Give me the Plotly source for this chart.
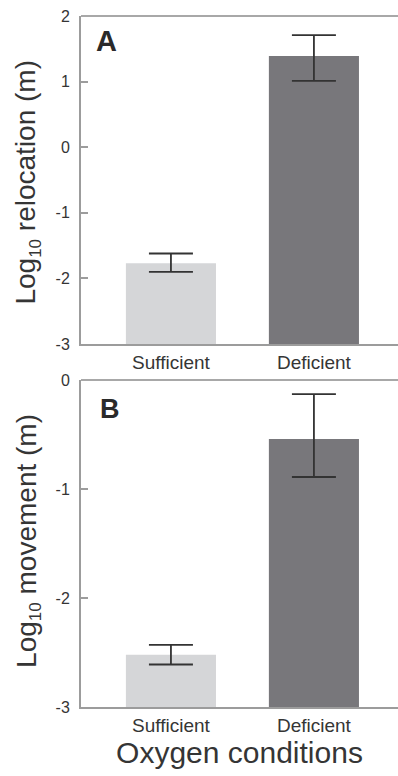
import plotly.graph_objects as go

# Oxygen treatment groups
categories = ["Sufficient", "Deficient"]

# Panel A: log10 relocation distance (m), mean with upper/lower error limits
reloc_mean = [-1.77, 1.39]
reloc_upper = [-1.62, 1.71]
reloc_lower = [-1.90, 1.01]

# Panel B: log10 movement distance (m), mean with upper/lower error limits
move_mean = [-2.52, -0.54]
move_upper = [-2.43, -0.13]
move_lower = [-2.61, -0.89]

y_ticks_a = [-3, -2, -1, 0, 1, 2]
y_ticks_b = [-3, -2, -1, 0]

bar_colors = ["#d5d6d8", "#78777b"]
axis_color = "#9c9c9c"
text_color = "#353535"
font_family = "Liberation Sans, Arial, sans-serif"
BASE = -3


def tick_text(vals):
    # plain hyphen-minus for negative tick labels
    return [str(v) for v in vals]


def bar_trace(means, upper, lower, xa, ya):
    return go.Bar(
        x=categories,
        y=[m - BASE for m in means],
        base=BASE,
        marker=dict(color=bar_colors, line=dict(width=0)),
        width=0.63,
        error_y=dict(
            type="data",
            symmetric=False,
            array=[u - m for u, m in zip(upper, means)],
            arrayminus=[m - l for m, l in zip(means, lower)],
            color="#333333",
            thickness=1.8,
            width=22,
        ),
        xaxis=xa,
        yaxis=ya,
        showlegend=False,
    )


fig = go.Figure()
fig.add_trace(bar_trace(reloc_mean, reloc_upper, reloc_lower, "x", "y"))
fig.add_trace(bar_trace(move_mean, move_upper, move_lower, "x2", "y2"))

xaxis_common = dict(
    range=[-0.629, 1.588],
    showline=True,
    linecolor=axis_color,
    linewidth=2,
    ticks="",
    showgrid=False,
    zeroline=False,
    tickfont=dict(size=19, color=text_color, family=font_family),
)
yaxis_common = dict(
    showline=True,
    linecolor=axis_color,
    linewidth=2,
    ticks="inside",
    ticklen=7,
    tickwidth=1.5,
    tickcolor=axis_color,
    showgrid=False,
    zeroline=False,
    ticklabelstandoff=6,
    tickfont=dict(size=16, color=text_color, family=font_family),
)

title_font = dict(size=28, color=text_color, family=font_family)
sub10 = "<sub><span style='font-size:17px'>10</span></sub>"

fig.update_layout(
    width=398,
    height=776,
    margin=dict(l=81, r=0, t=16, b=69),
    paper_bgcolor="white",
    plot_bgcolor="white",
    xaxis=dict(anchor="y", domain=[0, 1], **xaxis_common),
    xaxis2=dict(
        anchor="y2",
        domain=[0, 1],
        title=dict(text="Oxygen conditions", font=dict(size=30, color=text_color, family=font_family), standoff=4),
        **xaxis_common,
    ),
    yaxis=dict(
        anchor="x",
        domain=[0.5253, 1],
        range=[-3, 2],
        tickvals=y_ticks_a,
        ticktext=tick_text(y_ticks_a),
        **yaxis_common,
    ),
    yaxis2=dict(
        anchor="x2",
        domain=[0, 0.4732],
        range=[-3, 0],
        tickvals=y_ticks_b,
        ticktext=tick_text(y_ticks_b),
        **yaxis_common,
    ),
    shapes=[
        dict(type="line", xref="x domain", yref="y domain", x0=0, x1=1, y0=1, y1=1,
             line=dict(color="#a8a8a8", width=2)),
        dict(type="line", xref="x2 domain", yref="y2 domain", x0=0, x1=1, y0=1, y1=1,
             line=dict(color="#a8a8a8", width=2)),
    ],
    annotations=[
        # y-axis titles
        dict(text="Log" + sub10 + " relocation (m)", xref="paper", yref="paper",
             x=-0.168, y=0.760, xanchor="center", yanchor="middle", textangle=-90,
             showarrow=False, font=title_font),
        dict(text="Log" + sub10 + " movement (m)", xref="paper", yref="paper",
             x=-0.168, y=0.240, xanchor="center", yanchor="middle", textangle=-90,
             showarrow=False, font=title_font),
        # panel letters
        dict(text="<b>A</b>", xref="x domain", yref="y domain", x=0.08, y=0.925,
             xanchor="center", yanchor="middle", showarrow=False,
             font=dict(size=29, color="#2a2a2a", family=font_family)),
        dict(text="<b>B</b>", xref="x2 domain", yref="y2 domain", x=0.09, y=0.91,
             xanchor="center", yanchor="middle", showarrow=False,
             font=dict(size=27, color="#2a2a2a", family=font_family)),
    ],
)

fig.write_html("out.html")
